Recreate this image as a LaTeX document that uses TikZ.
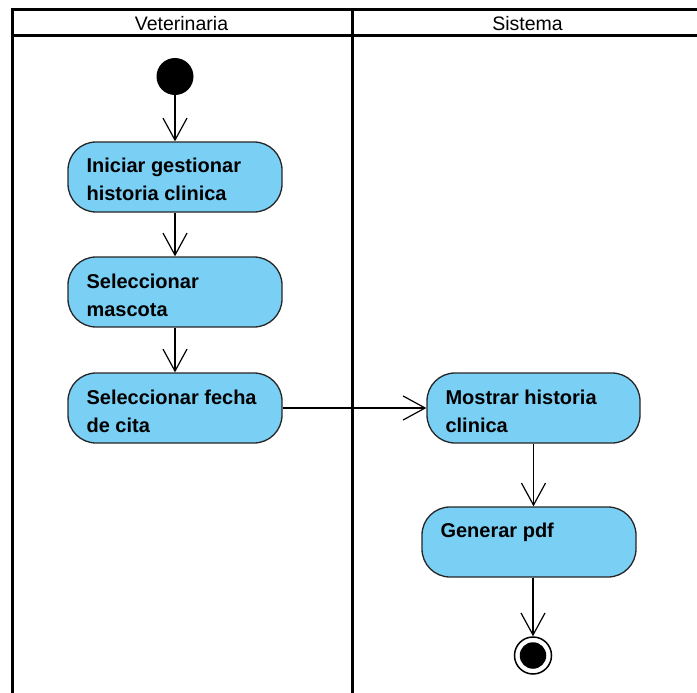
\documentclass[tikz,border=0pt]{standalone}
\usepackage{fontspec}
\setmainfont{Liberation Sans}
\usetikzlibrary{arrows.meta,calc}
\definecolor{actfill}{HTML}{7ACFF5}
\begin{document}
\begin{tikzpicture}[x=1pt,y=-1pt,
  lane/.style={line width=3pt},
  act/.style={draw=black!85, line width=1.3pt, fill=actfill, rounded corners=28pt,
    minimum width=214pt, minimum height=70pt, inner sep=0pt},
  acttext/.style={anchor=north west, inner sep=0pt, align=left,
    font=\fontsize{20}{28}\selectfont\bfseries},
  flow/.style={line width=1.2pt, -{Straight Barb[length=22pt,width=24pt,line width=1.2pt]}},
  head/.style={anchor=base, inner sep=0pt, font=\fontsize{19.5}{20}\selectfont}]
\useasboundingbox (0,0) rectangle (697,693);
\clip (0,0) rectangle (697,693);

% swimlane frame
\draw[lane] (12.5,710) -- (12.5,9.5) -- (710,9.5);
\draw[lane] (12.5,35.5) -- (710,35.5);
\draw[lane] (352,9.5) -- (352,710);
\node[head] (lv) at (181.5,31) {Veterinaria};
\node[head] (ls) at (527.5,31) {Sistema};

% initial and final nodes
\node[circle, fill=black, minimum size=37pt, inner sep=0pt] (start) at (175,76.5) {};
\node[circle, draw=black, line width=1.5pt, fill=white, minimum size=37pt, inner sep=0pt] (fin) at (533,655.5) {};
\node[circle, fill=black, minimum size=26.5pt, inner sep=0pt] (finin) at (fin.center) {};

% activities
\node[act] (a1) at (175,177) {};
\node[act] (a2) at (175,292) {};
\node[act] (a3) at (175,408) {};
\node[act, minimum width=213pt] (a4) at (533.5,408) {};
\node[act] (a5) at (529,542) {};

\node[acttext] (t1) at ($(a1.north west)+(19,11)$) {\strut Iniciar gestionar\\historia clinica};
\node[acttext] (t2) at ($(a2.north west)+(19,12)$) {\strut Seleccionar\\mascota};
\node[acttext] (t3) at ($(a3.north west)+(19,12)$) {\strut Seleccionar fecha\\de cita};
\node[acttext] (t4) at ($(a4.north west)+(19,12)$) {\strut Mostrar historia\\clinica};
\node[acttext] (t5) at ($(a5.north west)+(19,11)$) {\strut Generar pdf};

% control flows
\draw[flow] (start) -- (a1);
\draw[flow] (a1) -- (a2);
\draw[flow] (a2) -- (a3);
\draw[flow] (a3) -- (a4);
\draw[flow] (a4.south) -- (a4.south |- a5.north);
\draw[flow] (fin.north |- a5.south) -- (fin.north);
\end{tikzpicture}
\end{document}
